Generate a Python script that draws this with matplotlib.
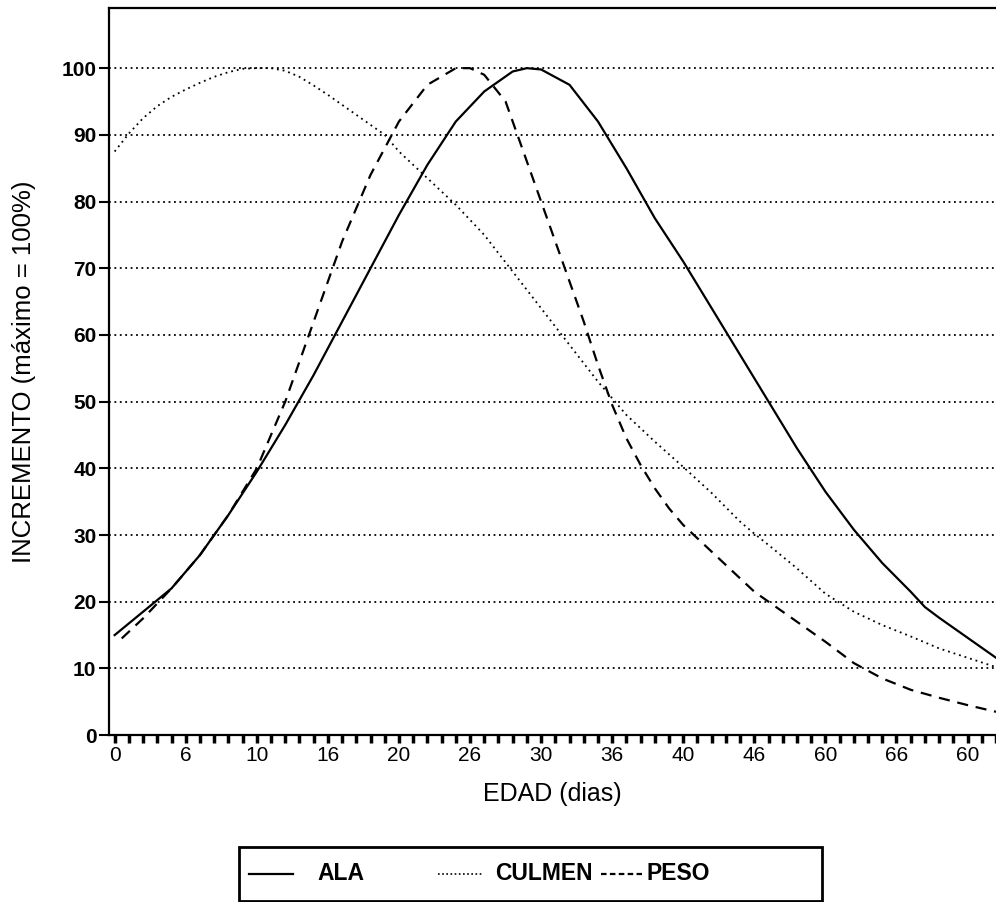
import numpy as np
from matplotlib import pyplot as plt
from matplotlib.lines import Line2D
from matplotlib.patches import Rectangle
from matplotlib.ticker import MultipleLocator

plt.rcParams['font.family'] = ['Liberation Sans', 'DejaVu Sans']

# data (days, % of max)
ala_x = [0, 2, 4, 6, 8, 10, 12, 14, 16, 18, 20, 22, 24, 26, 28, 29, 30, 32, 34, 36,
         38, 40, 42, 44, 46, 48, 50, 52, 54, 56, 57, 58, 60, 62]
ala_y = [15, 18.5, 22, 27, 33, 39.5, 46.5, 54, 62, 70, 78, 85.5, 92, 96.5, 99.5, 100,
         99.8, 97.5, 92, 85, 77.5, 71, 64, 57, 50, 43, 36.5, 30.8, 25.8, 21.5, 19.2,
         17.6, 14.6, 11.6]

culmen_x = [0, 1, 2, 3, 4, 5, 6, 7, 8, 9, 10, 11, 12, 13, 14, 15, 16, 17, 18, 19, 20,
            21, 22, 24, 26, 28, 30, 32, 34, 36, 38, 40, 42, 44, 45, 46, 48, 50, 52, 54,
            56, 58, 60, 62]
culmen_y = [87.5, 90.2, 92.5, 94.3, 95.7, 96.8, 97.8, 98.7, 99.4, 99.9, 100, 100, 99.6,
            98.7, 97.4, 96, 94.5, 93, 91.5, 90, 87.5, 85.5, 83.5, 79.5, 75, 69.5, 64,
            58.5, 53, 48, 44, 40.2, 36.3, 32, 30.2, 28.5, 25, 21.2, 18.5, 16.5, 14.8,
            13, 11.6, 10.2]

peso_x = [0.5, 2, 4, 6, 8, 10, 12, 14, 16, 18, 20, 22, 24, 25, 26, 27.5, 29, 31, 32,
          33, 34, 35, 36, 37, 38, 39, 40, 41, 42, 43, 44, 45, 46, 47, 48, 50, 52, 54,
          56, 58, 60, 62]
peso_y = [14.5, 17.5, 22, 27, 33, 40, 50, 62, 74, 84, 92, 97.5, 100, 100, 99, 95, 86,
          74, 68, 62, 55.5, 49.5, 44.5, 40.5, 37, 34, 31.5, 29.5, 27.5, 25.5, 23.5,
          21.5, 20, 18.5, 17, 14, 10.8, 8.5, 6.8, 5.6, 4.5, 3.5]

xticks = [0, 5, 10, 15, 20, 25, 30, 35, 40, 45, 50, 55, 60]
xlabels = ['0', '6', '10', '16', '20', '26', '30', '36', '40', '46', '60', '66', '60']
yticks = [0, 10, 20, 30, 40, 50, 60, 70, 80, 90, 100]

solid = '-'
dotted = (0, (1, 2.2))
dashed = (0, (5, 3.5))

fig = plt.figure(figsize=(9.96, 9.02), dpi=100)
ax = fig.add_axes([0.1094, 0.185, 0.8906, 0.806])

# grid lines
for v in yticks[1:]:
    ax.axhline(v, color='black', lw=1.3, ls=(0, (1, 2)), zorder=1)

ax.plot(ala_x, ala_y, color='black', lw=1.6, ls=solid, zorder=3)
ax.plot(culmen_x, culmen_y, color='black', lw=1.3, ls=dotted, zorder=3)
ax.plot(peso_x, peso_y, color='black', lw=1.6, ls=dashed, zorder=3)

ax.set_xlim(-0.4, 62)
ax.set_ylim(0, 109)
ax.spines['right'].set_visible(False)
for s in ['left', 'top', 'bottom']:
    ax.spines[s].set_linewidth(1.6)

ax.set_xticks(xticks)
ax.set_xticklabels(xlabels, fontsize=15)
ax.xaxis.set_minor_locator(MultipleLocator(1))
ax.tick_params(axis='x', which='both', direction='out', length=6, width=2.5, pad=2)
ax.set_yticks(yticks)
ax.set_yticklabels([str(v) for v in yticks], fontsize=15, fontweight='bold')
ax.tick_params(axis='y', direction='out', length=7, width=1.5, pad=2)

ax.set_xlabel('EDAD (dias)', fontsize=18, labelpad=12)
ax.set_ylabel('INCREMENTO (máximo = 100%)', fontsize=18.5, labelpad=18)

# legend box, laid out like the original
W, H = 996, 902
fig.patches.append(Rectangle((239 / W, 1 / H), (822 - 239) / W, (901 - 847) / H,
                             transform=fig.transFigure, fill=False, lw=2,
                             edgecolor='black'))
ly = 1 - 874 / H
items = [(249, 293, solid, 1.6, 317, 'ALA'),
         (438, 482, (0, (1, 1.5)), 1.2, 495, 'CULMEN'),
         (601, 642, (0, (2.5, 1.5)), 1.6, 647, 'PESO')]
for x0, x1, ls, lw, tx, name in items:
    fig.add_artist(Line2D([x0 / W, x1 / W], [ly, ly], transform=fig.transFigure,
                          color='black', ls=ls, lw=lw))
    fig.text(tx / W, ly, name, ha='left', va='center', fontsize=16.5,
             fontweight='bold')

fig.savefig('out.png', dpi=100)
